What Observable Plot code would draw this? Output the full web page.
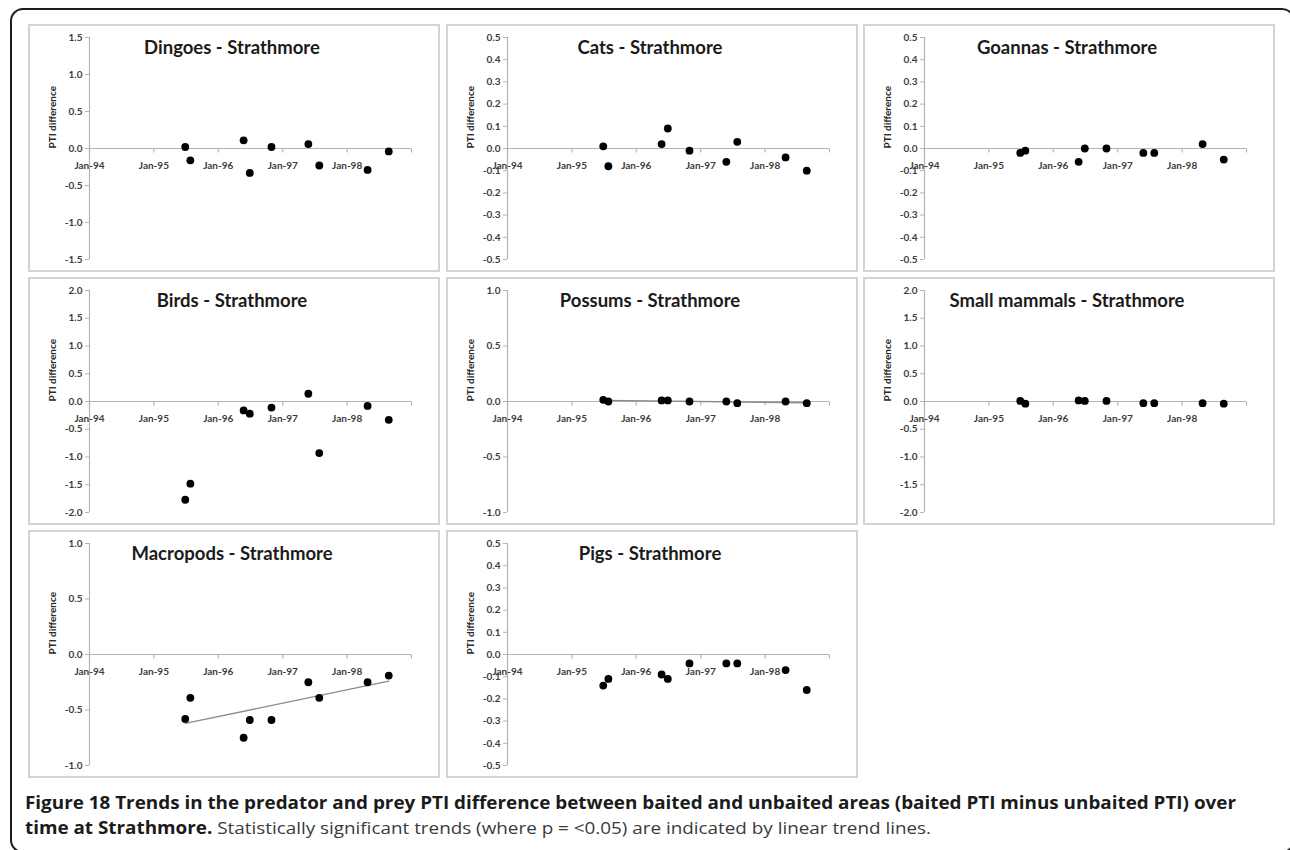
<!DOCTYPE html>
<html>
<head>
<meta charset="utf-8">
<script src="https://cdn.jsdelivr.net/npm/d3@7"></script>
<script src="https://cdn.jsdelivr.net/npm/@observablehq/plot@0.6"></script>
<style>
  html, body { margin: 0; padding: 0; background: #fff; }
  body { width: 1290px; height: 850px; position: relative; overflow: hidden; }
  #frame {
    position: absolute; left: 10px; top: 8px; width: 1285px; height: 845px;
    border: 2px solid #1e1e1e; border-radius: 13px; box-sizing: border-box;
  }
  .panel {
    position: absolute; background: #fff;
    outline: 2px solid #d3d3d3; outline-offset: -2px;
  }
  .panel svg { position: absolute; left: 0; top: 0; }
  .ptitle {
    position: absolute; left: 0; right: 0; text-align: center;
    font: bold 18.5px Lato, "Open Sans", sans-serif; color: #1b1b1b;
    white-space: nowrap; pointer-events: none;
  }
  .cap {
    position: absolute; left: 25px; white-space: nowrap;
    font: 17px "Open Sans", sans-serif; line-height: 25px; color: #1b1b1b;
    transform-origin: 0 50%;
  }
  .cap b { font-weight: bold; }
  .cap .plain { color: #3a3a3a; }
</style>
</head>
<body>
<div id="frame"></div>
<div id="panels"></div>
<div class="cap" id="cap1" style="top:790px"><b>Figure 18 Trends in the predator and prey PTI difference between baited and unbaited areas (baited PTI minus unbaited PTI) over</b></div>
<div class="cap" id="cap2" style="top:815px"><b>time at Strathmore.</b><span class="plain"> Statistically significant trends (where p = &lt;0.05) are indicated by linear trend lines.</span></div>

<script>
// Survey dates shared by every panel
const surveyDates = ["1995-06-28", "1995-07-27", "1996-05-24", "1996-06-28", "1996-10-29",
                     "1997-05-26", "1997-07-27", "1998-04-27", "1998-08-25"];

// PTI difference (baited minus unbaited) per survey
const dingoes      = [0.02, -0.16, 0.11, -0.33, 0.02, 0.06, -0.23, -0.29, -0.04];
const cats         = [0.01, -0.08, 0.02, 0.09, -0.01, -0.06, 0.03, -0.04, -0.10];
const goannas      = [-0.02, -0.01, -0.06, 0.00, 0.00, -0.02, -0.02, 0.02, -0.05];
const birds        = [-1.77, -1.48, -0.16, -0.22, -0.11, 0.14, -0.93, -0.08, -0.33];
const possums      = [0.015, 0.00, 0.01, 0.01, 0.00, 0.00, -0.015, 0.00, -0.015];
const smallMammals = [0.01, -0.04, 0.02, 0.01, 0.01, -0.03, -0.03, -0.03, -0.04];
const macropods    = [-0.58, -0.39, -0.75, -0.59, -0.59, -0.25, -0.39, -0.25, -0.19];
const pigs         = [-0.14, -0.11, -0.09, -0.11, -0.04, -0.04, -0.04, -0.07, -0.16];

// Y tick sets
const ticks15 = [-1.5, -1.0, -0.5, 0.0, 0.5, 1.0, 1.5];
const ticks05 = [-0.5, -0.4, -0.3, -0.2, -0.1, 0.0, 0.1, 0.2, 0.3, 0.4, 0.5];
const ticks20 = [-2.0, -1.5, -1.0, -0.5, 0.0, 0.5, 1.0, 1.5, 2.0];
const ticks10 = [-1.0, -0.5, 0.0, 0.5, 1.0];

// X axis: yearly ticks and labels
const xTickDates  = ["1994-01-01", "1995-01-01", "1996-01-01", "1997-01-01", "1998-01-01", "1999-01-01"];
const xTickLabels = ["Jan-94", "Jan-95", "Jan-96", "Jan-97", "Jan-98"];

const panelNames  = ["Dingoes", "Cats", "Goannas", "Birds", "Possums", "Small mammals", "Macropods", "Pigs"];
const panelValues = [dingoes, cats, goannas, birds, possums, smallMammals, macropods, pigs];
const panelTicks  = [ticks15, ticks05, ticks05, ticks20, ticks10, ticks20, ticks10, ticks05];
const panelTrend  = [false, false, false, false, true, false, true, false];

const W = 412, H = 248;
const colLeft = [28, 446, 863];
const rowTop = [24, 277, 530];
const axisGray = "#b4b4b4";
const labelInk = "#3c3c3c";

const xStart = new Date(xTickDates[0]);
const xEnd = new Date(xTickDates[xTickDates.length - 1]);

// short downward tick drawn at each year on the zero line
const tickDown = { draw(ctx) { ctx.moveTo(0, 0); ctx.lineTo(0, 4); } };

const host = document.getElementById("panels");

panelNames.forEach((name, k) => {
  const rows = surveyDates.map((d, i) => ({ date: new Date(d), value: panelValues[k][i] }));
  const yt = panelTicks[k];
  const yMin = yt[0], yMax = yt[yt.length - 1];

  const marks = [
    // horizontal axis along zero
    Plot.ruleY([0], { x1: () => xStart, x2: () => xEnd, stroke: axisGray, strokeWidth: 1.2 }),
    // vertical axis at the start of the time range
    Plot.ruleX([xStart], { y1: () => yMin, y2: () => yMax, stroke: axisGray, strokeWidth: 1.2 }),
    Plot.axisY({
      ticks: yt, tickSize: 4, tickPadding: 3, label: null,
      tickFormat: d => d.toFixed(1), stroke: axisGray, fill: labelInk,
      fontSize: 10, fontWeight: "bold"
    }),
    Plot.dot(xTickDates.map(d => new Date(d)), {
      x: d => d, y: () => 0, symbol: tickDown, r: 4, stroke: axisGray, fill: "none", strokeWidth: 1.2
    }),
    Plot.text(xTickLabels, {
      x: (d, i) => new Date(xTickDates[i]), y: () => 0, text: d => d, dy: 17,
      fontSize: 10, fontWeight: "bold", fill: labelInk
    }),
    Plot.text(["PTI difference"], {
      frameAnchor: "left", rotate: -90, dx: -37, text: d => d,
      fontSize: 10, fontWeight: "bold", fill: "#2a2a2a"
    })
  ];
  if (panelTrend[k]) {
    marks.push(Plot.linearRegressionY(rows, { x: "date", y: "value", ci: 0, stroke: "#8a8a8a", strokeWidth: 1.4 }));
  }
  marks.push(Plot.dot(rows, { x: "date", y: "value", r: 3.9, fill: "#000", stroke: "none" }));

  const chart = Plot.plot({
    width: W, height: H,
    marginLeft: 61, marginRight: 29, marginTop: 13, marginBottom: 13,
    style: { fontFamily: "Lato, 'Open Sans', sans-serif", fontSize: "10px", background: "transparent", overflow: "visible" },
    x: { type: "utc", domain: [xStart, xEnd], axis: null },
    y: { domain: [yMin, yMax], axis: null },
    marks
  });

  const panel = document.createElement("div");
  panel.className = "panel";
  panel.style.left = colLeft[k % 3] + "px";
  panel.style.top = rowTop[Math.floor(k / 3)] + "px";
  panel.style.width = W + "px";
  panel.style.height = H + "px";
  panel.appendChild(chart);

  const title = document.createElement("div");
  title.className = "ptitle";
  title.style.top = "12px";
  title.style.left = "-4px";
  title.textContent = name + " - Strathmore";
  panel.appendChild(title);

  host.appendChild(panel);
});

// fit the caption lines to the column width
const cap1 = document.getElementById("cap1");
const cap2 = document.getElementById("cap2");
const s = 1211 / cap1.getBoundingClientRect().width;
cap1.style.transform = `scaleX(${s})`;
cap2.style.transform = `scaleX(${s})`;
</script>
</body>
</html>
